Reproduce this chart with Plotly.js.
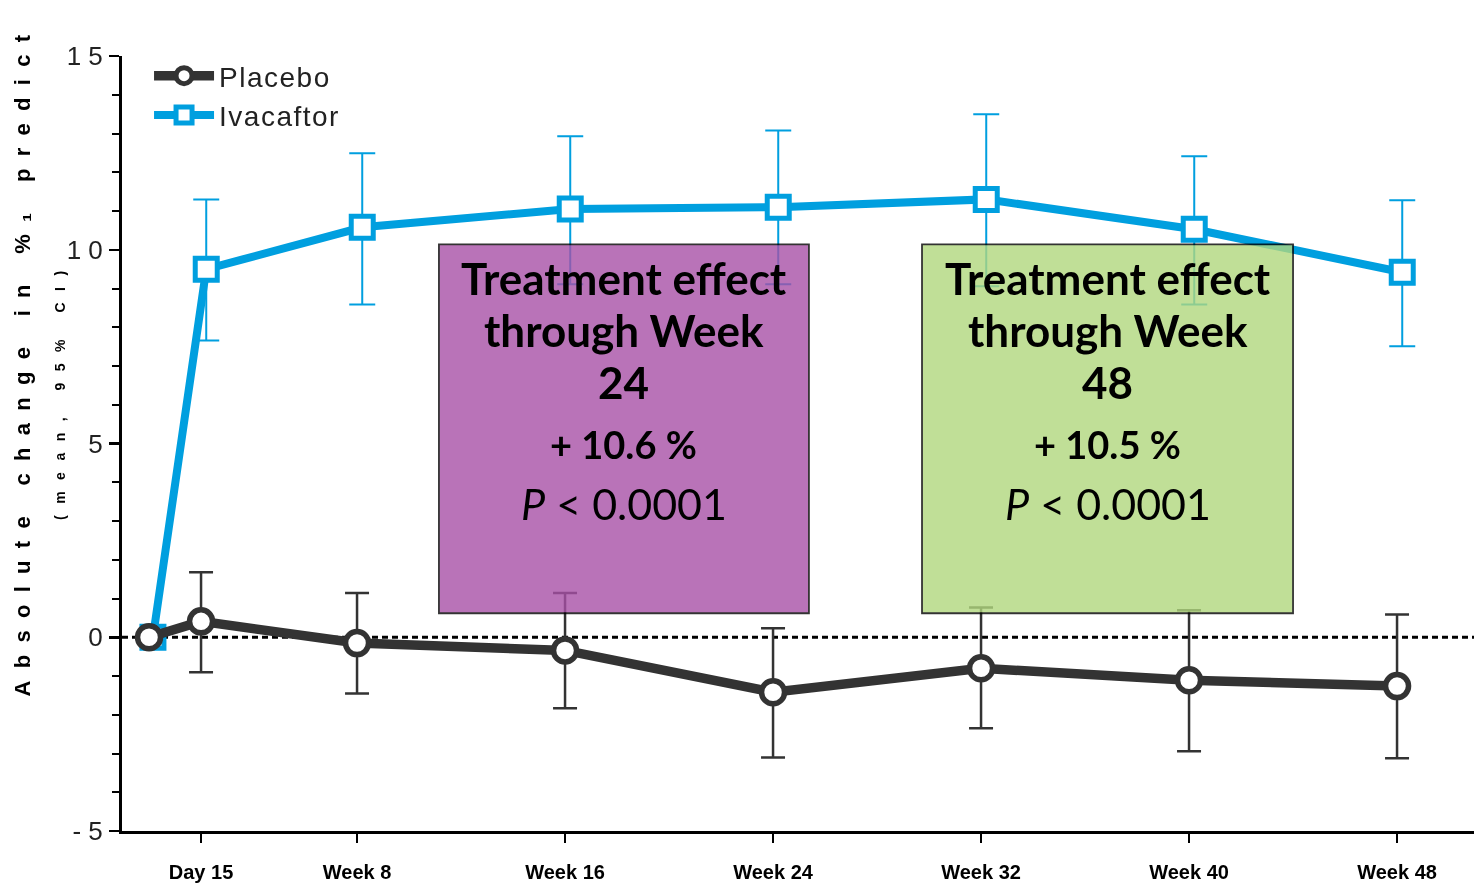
<!DOCTYPE html>
<html>
<head>
<meta charset="utf-8">
<script src="https://cdn.plot.ly/plotly-3.0.1.min.js"></script>
<style>
html, body { margin: 0; padding: 0; background: #fff; }
#chart { width: 1476px; height: 887px; }
.shapelayer path { mix-blend-mode: multiply; }
</style>
</head>
<body>
<div id="chart"></div>
<script>
// ---- data ----
const weeks = [0, 2, 8, 16, 24, 32, 40, 48];
const tickWeeks = [2, 8, 16, 24, 32, 40, 48];
const tickLabels = ["Day 15", "Week 8", "Week 16", "Week 24", "Week 32", "Week 40", "Week 48"];
const yTickVals = [-5, 0, 5, 10, 15];
const yTickLabels = ["- 5", "0", "5", "1 0", "1 5"];

const placeboMean = [0, 0.41, -0.15, -0.34, -1.42, -0.80, -1.11, -1.26];
const placeboUpper = [null, 1.68, 1.14, 1.14, 0.23, 0.77, 0.70, 0.59];
const placeboLower = [null, -0.90, -1.45, -1.83, -3.10, -2.35, -2.94, -3.12];

const ivaMean = [0, 9.50, 10.58, 11.05, 11.10, 11.30, 10.53, 9.42];
const ivaUpper = [null, 11.30, 12.49, 12.93, 13.08, 13.50, 12.41, 11.28];
const ivaLower = [null, 7.66, 8.59, 9.11, 9.11, 9.06, 8.59, 7.51];

const seriesNames = ["Placebo", "Ivacaftor"];
const box24Lines = ["Treatment effect", "through Week", "24"];
const box48Lines = ["Treatment effect", "through Week", "48"];
const effect24 = "+ 10.6 %";
const effect48 = "+ 10.5 %";
const pText = "<i>P</i> < 0.0001";
const yTitle1 = "Absolute change in %\u2081 predict";
const yTitle2 = "(mean, 95% CI)";

// ---- styling / helpers ----
const C_PLA = "#333333";
const C_IVA = "#009FDF";
const ivaDodge = 0.2;
const spaced = (t, px) => '<span style="letter-spacing:' + px + 'px">' + t + '</span>';
const plus = (hi, m) => hi.map((v, i) => v === null ? null : v - m[i]);
const minus = (lo, m) => lo.map((v, i) => v === null ? null : m[i] - v);

const ivaX = weeks.map((w, i) => i === 0 ? w + 0.15 : w + ivaDodge);

const traces = [
  {
    x: ivaX, y: ivaMean, name: spaced(seriesNames[1], 1.5), type: "scatter", mode: "lines+markers",
    line: { color: C_IVA, width: 8 },
    marker: { symbol: "square", size: 22, color: "#ffffff", line: { color: C_IVA, width: 5 } },
    error_y: { type: "data", array: plus(ivaUpper, ivaMean), arrayminus: minus(ivaLower, ivaMean),
               visible: true, color: C_IVA, thickness: 2, width: 13 },
    hoverinfo: "skip"
  },
  {
    x: weeks, y: placeboMean, name: spaced(seriesNames[0], 1.5), type: "scatter", mode: "lines+markers",
    line: { color: C_PLA, width: 9.5 },
    marker: { symbol: "circle", size: 23, color: "#ffffff", line: { color: C_PLA, width: 5.5 } },
    error_y: { type: "data", array: plus(placeboUpper, placeboMean), arrayminus: minus(placeboLower, placeboMean),
               visible: true, color: C_PLA, thickness: 2.5, width: 12 },
    hoverinfo: "skip"
  }
];

const boxFont = { family: "Lato, 'Open Sans', sans-serif", color: "#000000" };
function boxAnn(cx, lines, eff) {
  const lineY = [9.265, 7.923, 6.581];
  const out = lines.map((t, i) => ({
    x: cx, y: lineY[i], xref: "x", yref: "y", text: "<b>" + t + "</b>", showarrow: false,
    font: Object.assign({ size: 44 }, boxFont)
  }));
  out.push({ x: cx, y: 4.98, xref: "x", yref: "y", text: "<b>" + eff + "</b>", showarrow: false,
             font: Object.assign({ size: 38 }, boxFont) });
  out.push({ x: cx, y: 3.46, xref: "x", yref: "y", text: pText, showarrow: false,
             font: Object.assign({ size: 43 }, boxFont) });
  return out;
}

const layout = {
  width: 1476, height: 887,
  margin: { l: 122, r: 2, t: 56, b: 56, pad: 0 },
  paper_bgcolor: "#ffffff", plot_bgcolor: "#ffffff",
  showlegend: true,
  legend: {
    x: 0.02, y: 1.0065, xanchor: "left", yanchor: "top", traceorder: "reversed",
    font: { family: "'Liberation Sans', Arial, sans-serif", size: 28, color: "#222222" },
    bgcolor: "rgba(0,0,0,0)", itemwidth: 60
  },
  xaxis: {
    range: [-1.04, 50.96], showgrid: false, zeroline: false,
    showline: true, linecolor: "#000000", linewidth: 3,
    ticks: "outside", ticklen: 9, tickwidth: 2, tickcolor: "#000000",
    tickvals: tickWeeks, ticktext: tickLabels, ticklabelstandoff: 12,
    tickfont: { family: "'Liberation Sans', Arial, sans-serif", size: 20, color: "#000000", weight: "bold" },
    fixedrange: true
  },
  yaxis: {
    range: [-5, 15], showgrid: false, zeroline: false,
    showline: true, linecolor: "#000000", linewidth: 3,
    ticks: "outside", ticklen: 10, tickwidth: 2.5, tickcolor: "#000000",
    tickvals: yTickVals, ticktext: yTickLabels, ticklabelstandoff: 1,
    minor: { dtick: 1, ticks: "outside", ticklen: 7, tickwidth: 2, tickcolor: "#000000", showgrid: false },
    tickfont: { family: "'Liberation Sans', Arial, sans-serif", size: 26, color: "#222222" },
    fixedrange: true
  },
  shapes: [
    { type: "line", xref: "paper", yref: "y", x0: 0, x1: 1, y0: 0, y1: 0, layer: "below",
      line: { color: "#000000", width: 3, dash: "6px,4px" } },
    { type: "rect", xref: "x", yref: "y", x0: 11.15, x1: 25.38, y0: 0.62, y1: 10.14, layer: "above",
      opacity: 0.8, fillcolor: "#A850A6", line: { color: "#000000", width: 1.8 } },
    { type: "rect", xref: "x", yref: "y", x0: 29.73, x1: 44.0, y0: 0.62, y1: 10.14, layer: "above",
      opacity: 0.8, fillcolor: "#B0D77D", line: { color: "#000000", width: 1.8 } }
  ],
  annotations: [
    { xref: "paper", yref: "paper", x: (8 - 122) / 1352, y: (831 - 360) / 775, textangle: -90,
      text: "<b>" + spaced(yTitle1, 12.3) + "</b>", showarrow: false,
      font: { family: "'Liberation Sans', Arial, sans-serif", size: 22, color: "#000000" } },
    { xref: "paper", yref: "paper", x: (50 - 122) / 1352, y: (831 - 390) / 775, textangle: -90,
      text: "<b>" + spaced(yTitle2, 11.5) + "</b>", showarrow: false,
      font: { family: "'Liberation Sans', Arial, sans-serif", size: 14, color: "#000000" } }
  ].concat(boxAnn((11.15 + 25.38) / 2, box24Lines, effect24), boxAnn((29.73 + 44.0) / 2, box48Lines, effect48))
};

Plotly.newPlot("chart", traces, layout, { displayModeBar: false, staticPlot: true });
</script>
</body>
</html>
